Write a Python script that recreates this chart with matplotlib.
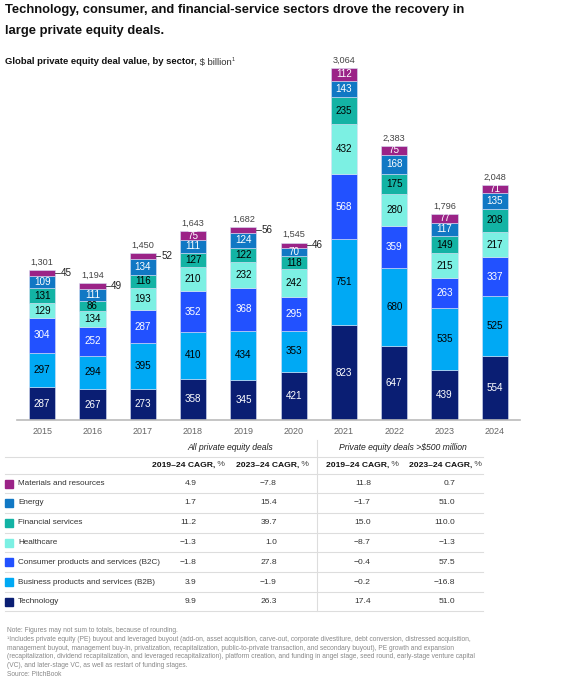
import matplotlib
matplotlib.use("Agg")
import matplotlib.pyplot as plt
from matplotlib.lines import Line2D

plt.rcParams['font.family'] = ['Liberation Sans', 'DejaVu Sans']

# data
years = ["2015", "2016", "2017", "2018", "2019", "2020", "2021", "2022", "2023", "2024"]
technology = [287, 267, 273, 358, 345, 421, 823, 647, 439, 554]
b2b = [297, 294, 395, 410, 434, 353, 751, 680, 535, 525]
b2c = [304, 252, 287, 352, 368, 295, 568, 359, 263, 337]
healthcare = [129, 134, 193, 210, 232, 242, 432, 280, 215, 217]
financial = [131, 86, 116, 127, 122, 118, 235, 175, 149, 208]
energy = [109, 111, 134, 111, 124, 70, 143, 168, 117, 135]
materials = [45, 49, 52, 75, 56, 46, 112, 75, 77, 71]
totals = [1301, 1194, 1450, 1643, 1682, 1545, 3064, 2383, 1796, 2048]

sectors = ["Technology", "Business products and services (B2B)",
           "Consumer products and services (B2C)", "Healthcare",
           "Financial services", "Energy", "Materials and resources"]
colors = ["#0A1E73", "#00A9F4", "#2251FF", "#7CF0E3", "#13B3A4", "#1178C4", "#9B2387"]
label_colors = ["white", "black", "white", "black", "black", "white", "white"]
series = [technology, b2b, b2c, healthcare, financial, energy, materials]

# CAGR table (rows top to bottom: materials ... technology)
table_sectors = sectors[::-1]
table_colors = colors[::-1]
cagr_all_1924 = [4.9, 1.7, 11.2, -1.3, -1.8, 3.9, 9.9]
cagr_all_2324 = [-7.8, 15.4, 39.7, 1.0, 27.8, -1.9, 26.3]
cagr_big_1924 = [11.8, -1.7, 15.0, -8.7, -0.4, -0.2, 17.4]
cagr_big_2324 = [0.7, 51.0, 110.0, -1.3, 57.5, -16.8, 51.0]

W, H = 577, 686


def fx(x):
    return x / W


def fy(y):
    return 1 - y / H


fig = plt.figure(figsize=(W / 100, H / 100), dpi=100)

# title (two lines placed separately)
fig.text(fx(5), fy(4), "Technology, consumer, and financial-service sectors drove the recovery in",
         fontsize=9.4, fontweight="bold", va="top", ha="left", color="#111111")
fig.text(fx(5), fy(25), "large private equity deals.",
         fontsize=9.4, fontweight="bold", va="top", ha="left", color="#111111")

sub = fig.text(fx(5), fy(62), "Global private equity deal value, by sector,", fontsize=6.8,
               fontweight="bold", va="center", ha="left", color="#111111")

# chart
px_per_unit = 352 / 3064
ax = fig.add_axes([fx(17), fy(420), 503 / W, 380 / H])
ax.set_xlim(-0.5, 9.5)
ax.set_ylim(0, 380 / px_per_unit)
for s in ["top", "right", "left"]:
    ax.spines[s].set_visible(False)
ax.spines["bottom"].set_color("#bbbbbb")
ax.spines["bottom"].set_linewidth(1.2)
ax.set_yticks([])
ax.set_xticks(range(len(years)))
ax.set_xticklabels(years, fontsize=6.5, color="#666666")
ax.tick_params(axis="x", length=0, pad=5)

width = 0.52
xs = list(range(len(years)))
bottoms = [0] * len(years)
for k, (vals, col) in enumerate(zip(series, colors)):
    ax.bar(xs, vals, width, bottom=bottoms, color=col, edgecolor="#d8e0f5", linewidth=0.4)
    for i, v in enumerate(vals):
        ymid = bottoms[i] + v / 2
        if v < 60:
            x0 = i + width / 2
            ax.plot([x0, x0 + 0.09], [ymid, ymid], color="#333333", lw=0.6)
            ax.text(x0 + 0.11, ymid, str(v), fontsize=7.1, ha="left", va="center", color="#222222")
        else:
            ax.text(i, ymid, str(v), fontsize=7.1, ha="center", va="center", color=label_colors[k])
    bottoms = [b + v for b, v in zip(bottoms, vals)]

for i, t in enumerate(totals):
    ax.annotate(f"{t:,}", (i, bottoms[i]), xytext=(0, 2.5), textcoords="offset points",
                ha="center", va="bottom", fontsize=6.6, color="#444444")

# subtitle continuation
s2 = ax.annotate(" $ billion", xy=(1, 0.5), xycoords=sub, va="center", ha="left",
                 fontsize=6.8, color="#333333", annotation_clip=False)
ax.annotate("1", xy=(1, 0.75), xycoords=s2, va="center", ha="left",
            fontsize=4, color="#333333", annotation_clip=False)

# table
def hline(y, x0=5, x1=483, color="#dddddd", lw=0.8):
    fig.add_artist(Line2D([fx(x0), fx(x1)], [fy(y), fy(y)], color=color, lw=lw,
                          transform=fig.transFigure))


fig.text(fx(230), fy(448), "All private equity deals", fontsize=6.2, style="italic",
         ha="center", va="center", color="#222222")
fig.text(fx(403), fy(448), "Private equity deals >$500 million", fontsize=6.2, style="italic",
         ha="center", va="center", color="#222222")
hline(456.5)
hline(473.5)

header_left = [152, 236, 326, 409]
for xl in header_left:
    b = fig.text(fx(xl), fy(465), "2019–24 CAGR," if xl in (152, 326) else "2023–24 CAGR,",
                 fontsize=6.1, fontweight="bold", ha="left", va="center", color="#111111")
    ax.annotate(" %", xy=(1, 0.5), xycoords=b, va="center", ha="left",
                fontsize=6.1, color="#444444", annotation_clip=False)

fig.add_artist(Line2D([fx(316.5), fx(316.5)], [fy(440), fy(611)], color="#dddddd", lw=0.8,
                      transform=fig.transFigure))

value_right = [196.5, 277, 371, 455]
columns = [cagr_all_1924, cagr_all_2324, cagr_big_1924, cagr_big_2324]
row_y = [483.5, 503, 523, 542.5, 562, 582, 601.5]
for r, (name, col) in enumerate(zip(table_sectors, table_colors)):
    y = row_y[r]
    fig.add_artist(plt.Rectangle((fx(5), fy(y + 4)), 8 / W, 8 / H, color=col,
                                 transform=fig.transFigure))
    fig.text(fx(18), fy(y), name, fontsize=5.9, ha="left", va="center", color="#333333")
    for xr, vals in zip(value_right, columns):
        fig.text(fx(xr), fy(y), f"{vals[r]:.1f}".replace("-", "−"), fontsize=6.1,
                 ha="right", va="center", color="#333333")
    hline(y + 9.7)

# footnotes
notes = [
    "Note: Figures may not sum to totals, because of rounding.",
    "¹Includes private equity (PE) buyout and leveraged buyout (add-on, asset acquisition, carve-out, corporate divestiture, debt conversion, distressed acquisition,",
    "management buyout, management buy-in, privatization, recapitalization, public-to-private transaction, and secondary buyout), PE growth and expansion",
    "(recapitalization, dividend recapitalization, and leveraged recapitalization), platform creation, and funding in angel stage, seed round, early-stage venture capital",
    "(VC), and later-stage VC, as well as restart of funding stages.",
    "Source: PitchBook",
]
for j, line in enumerate(notes):
    fig.text(fx(7), fy(630.7 + j * 8.7), line, fontsize=4.8, ha="left", va="center", color="#888888")

fig.savefig("out.png", dpi=100)
